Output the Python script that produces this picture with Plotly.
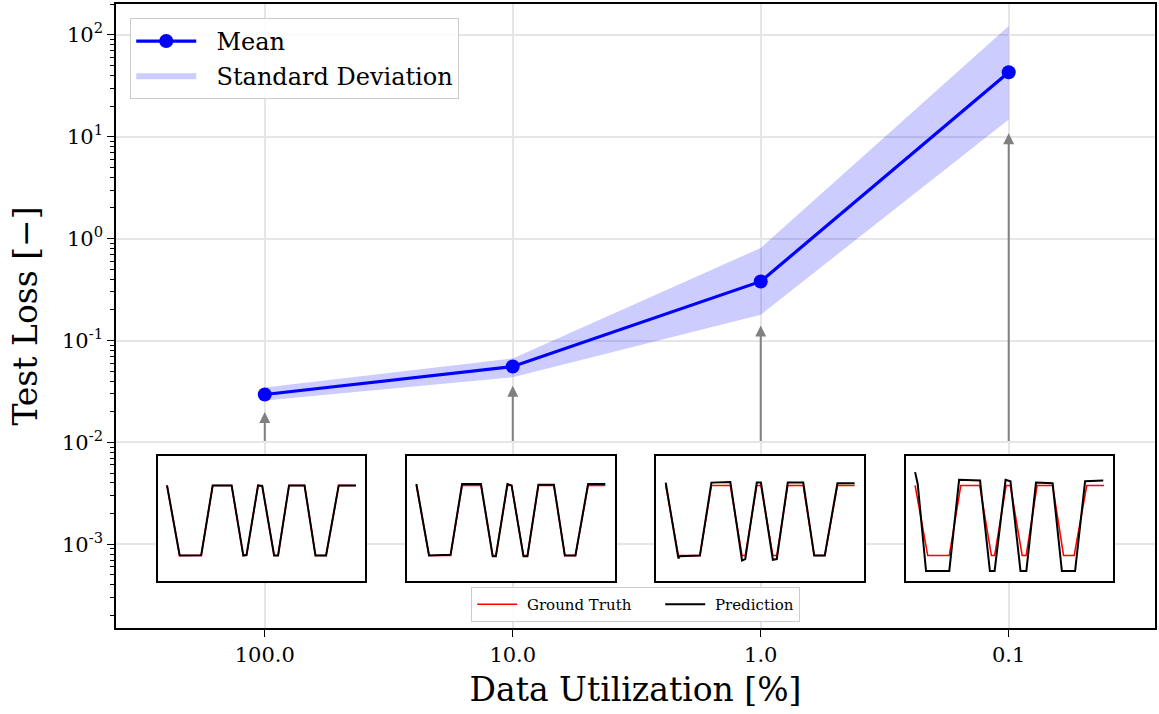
import plotly.graph_objects as go
import math

# ---------------- data ----------------
x_labels = ["100.0", "10.0", "1.0", "0.1"]
x_pos = [0, 1, 2, 3]
mean_loss = [0.0295, 0.0556, 0.38, 43.0]
std_upper = [0.0346, 0.0667, 0.81, 122.0]
std_lower = [0.0258, 0.0435, 0.179, 14.8]
arrow_tips = [0.0199, 0.036, 0.14, 10.8]
arrow_base = 0.01

y_tickvals = [1e-3, 1e-2, 1e-1, 1e0, 1e1, 1e2]
y_ticktext = ["10<sup>-3</sup>", "10<sup>-2</sup>", "10<sup>-1</sup>",
              "10<sup>0</sup>", "10<sup>1</sup>", "10<sup>2</sup>"]

# inset waveforms (time index, value)
gt_t = [0, 6.7, 18.1, 24.2, 34.2, 40.4, 42.1, 48.2, 50.4, 56.7, 58.8, 64.6, 72.8, 78.6, 84.2, 90.9, 100]
gt_y = [1, 0, 0, 1, 1, 0, 0, 1, 1, 0, 0, 1, 1, 0, 0, 1, 1]

pred_t = [
    [0, 6.7, 18.1, 24.2, 34.2, 40.4, 42.1, 48.2, 50.4, 56.7, 58.8, 64.6, 72.8, 78.6, 84.2, 90.9, 100],
    [0, 6.7, 18.1, 24.2, 34.2, 40.4, 42.1, 48.2, 50.4, 56.7, 58.8, 64.6, 72.8, 78.6, 84.2, 90.9, 100],
    [0, 6.7, 7.5, 18.1, 24.2, 34.2, 40.4, 42.1, 48.2, 50.4, 56.7, 58.8, 64.6, 72.8, 78.6, 84.2, 90.9, 100],
    [0, 1.4, 5.8, 18.1, 23.3, 34.4, 39.6, 42.1, 47.9, 50.5, 55.8, 58.9, 64.0, 72.8, 77.7, 84.7, 90.0, 99.6],
]
pred_y = [
    [1.0, 0.0, 0.005, 1.0, 1.0, 0.0, 0.01, 1.0, 0.99, 0.0, 0.0, 1.0, 1.0, 0.0, 0.0, 1.0, 1.0],
    [1.02, 0.0, 0.01, 1.02, 1.02, -0.01, -0.01, 1.02, 1.0, -0.01, -0.01, 1.01, 1.01, 0.0, 0.0, 1.02, 1.02],
    [1.04, -0.04, -0.01, 0.0, 1.04, 1.05, -0.07, -0.05, 1.04, 1.04, -0.06, -0.05, 1.04, 1.04, 0.0, 0.0, 1.03, 1.03],
    [1.19, 1.02, -0.22, -0.22, 1.08, 1.07, -0.22, -0.22, 1.08, 1.06, -0.22, -0.22, 1.04, 1.03, -0.22, -0.22, 1.06, 1.07],
]

FONT = "DejaVu Serif"
NB = "\u00a0"

fig = go.Figure()

# std band
fig.add_trace(go.Scatter(
    x=x_pos + x_pos[::-1], y=std_upper + std_lower[::-1],
    fill="toself", fillcolor="rgba(0,0,255,0.2)", line=dict(width=0),
    mode="lines", name=NB * 2 + "Standard Deviation", legendrank=2, hoverinfo="skip",
    xaxis="x", yaxis="y"))
# mean
fig.add_trace(go.Scatter(
    x=x_pos, y=mean_loss, mode="lines+markers", name=NB * 2 + "Mean",
    line=dict(color="#0000ff", width=3.2), marker=dict(size=14, color="#0000ff"),
    legendrank=1, xaxis="x", yaxis="y"))

# insets
inset_x0 = [0.04, 0.28, 0.52, 0.76]
inset_w = 0.2
inset_ydom = [0.076, 0.275]
layout_axes = {}
shapes = []
for i in range(4):
    xa = "x%d" % (i + 2)
    ya = "y%d" % (i + 2)
    fig.add_trace(go.Scatter(
        x=gt_t, y=gt_y, mode="lines", line=dict(color="#ff0000", width=1.6),
        name=NB + "Ground Truth" + NB * 5, legend="legend2", showlegend=(i == 0),
        xaxis=xa, yaxis=ya))
    fig.add_trace(go.Scatter(
        x=pred_t[i], y=pred_y[i], mode="lines", line=dict(color="black", width=2.0),
        name=NB + "Prediction", legend="legend2", showlegend=(i == 0),
        xaxis=xa, yaxis=ya))
    ax_common = dict(showgrid=False, zeroline=False, showticklabels=False, ticks="",
                     showline=True, mirror=True, linecolor="black", linewidth=1.5)
    layout_axes["xaxis%d" % (i + 2)] = dict(
        domain=[inset_x0[i], inset_x0[i] + inset_w], range=[-5, 105],
        anchor=ya, **ax_common)
    layout_axes["yaxis%d" % (i + 2)] = dict(
        domain=inset_ydom, range=[-0.357, 1.414], anchor=xa, **ax_common)
    shapes.append(dict(type="rect", xref=xa, yref=ya, x0=-5, x1=105, y0=-0.357, y1=1.414,
                       fillcolor="white", line=dict(width=0), layer="below"))

annotations = []
for i in range(4):
    annotations.append(dict(
        x=x_pos[i], y=math.log10(arrow_tips[i]), ax=x_pos[i], ay=math.log10(arrow_base),
        xref="x", yref="y", axref="x", ayref="y", text="", showarrow=True,
        arrowhead=2, arrowsize=1.1, arrowwidth=2, arrowcolor="#808080", standoff=0))

fig.update_layout(
    width=1159, height=714,
    margin=dict(l=116, r=2, t=2, b=86),
    paper_bgcolor="white", plot_bgcolor="white",
    font=dict(family=FONT, color="black"),
    showlegend=True,
    xaxis=dict(
        domain=[0, 1], range=[-0.6, 3.59], tickvals=x_pos, ticktext=x_labels,
        ticks="outside", ticklen=7, tickwidth=1.3, tickcolor="black",
        tickfont=dict(size=21, family=FONT),
        showgrid=True, gridcolor="#e6e6e6", gridwidth=1.5, zeroline=False,
        showline=True, mirror=True, linecolor="black", linewidth=1.5,
        title=dict(text="Data Utilization [%]", font=dict(size=33, family=FONT), standoff=12),
        anchor="y"),
    yaxis=dict(
        domain=[0, 1], type="log", range=[-3.822, 2.303],
        tickvals=y_tickvals, ticktext=y_ticktext,
        ticks="outside", ticklen=7, tickwidth=1.3, tickcolor="black",
        tickfont=dict(size=21, family=FONT),
        minor=dict(ticks="outside", ticklen=4, tickwidth=1, tickcolor="black",
                   dtick="D1", showgrid=False),
        showgrid=True, gridcolor="#e6e6e6", gridwidth=1.5, zeroline=False,
        showline=True, mirror=True, linecolor="black", linewidth=1.5,
        title=dict(text="Test Loss [−]", font=dict(size=33, family=FONT), standoff=14),
        anchor="x"),
    legend=dict(
        x=0.0135, y=0.978, xanchor="left", yanchor="top",
        bgcolor="rgba(255,255,255,0.85)", bordercolor="#cccccc", borderwidth=1.2,
        font=dict(size=24, family=FONT), itemwidth=60, tracegroupgap=6),
    legend2=dict(
        x=0.5, y=0.066, xanchor="center", yanchor="top", orientation="h",
        bgcolor="rgba(255,255,255,0.85)", bordercolor="#cccccc", borderwidth=1.2,
        font=dict(size=15, family=FONT), itemwidth=40),
    shapes=shapes,
    annotations=annotations,
    **layout_axes,
)

fig.write_html("out.html")
